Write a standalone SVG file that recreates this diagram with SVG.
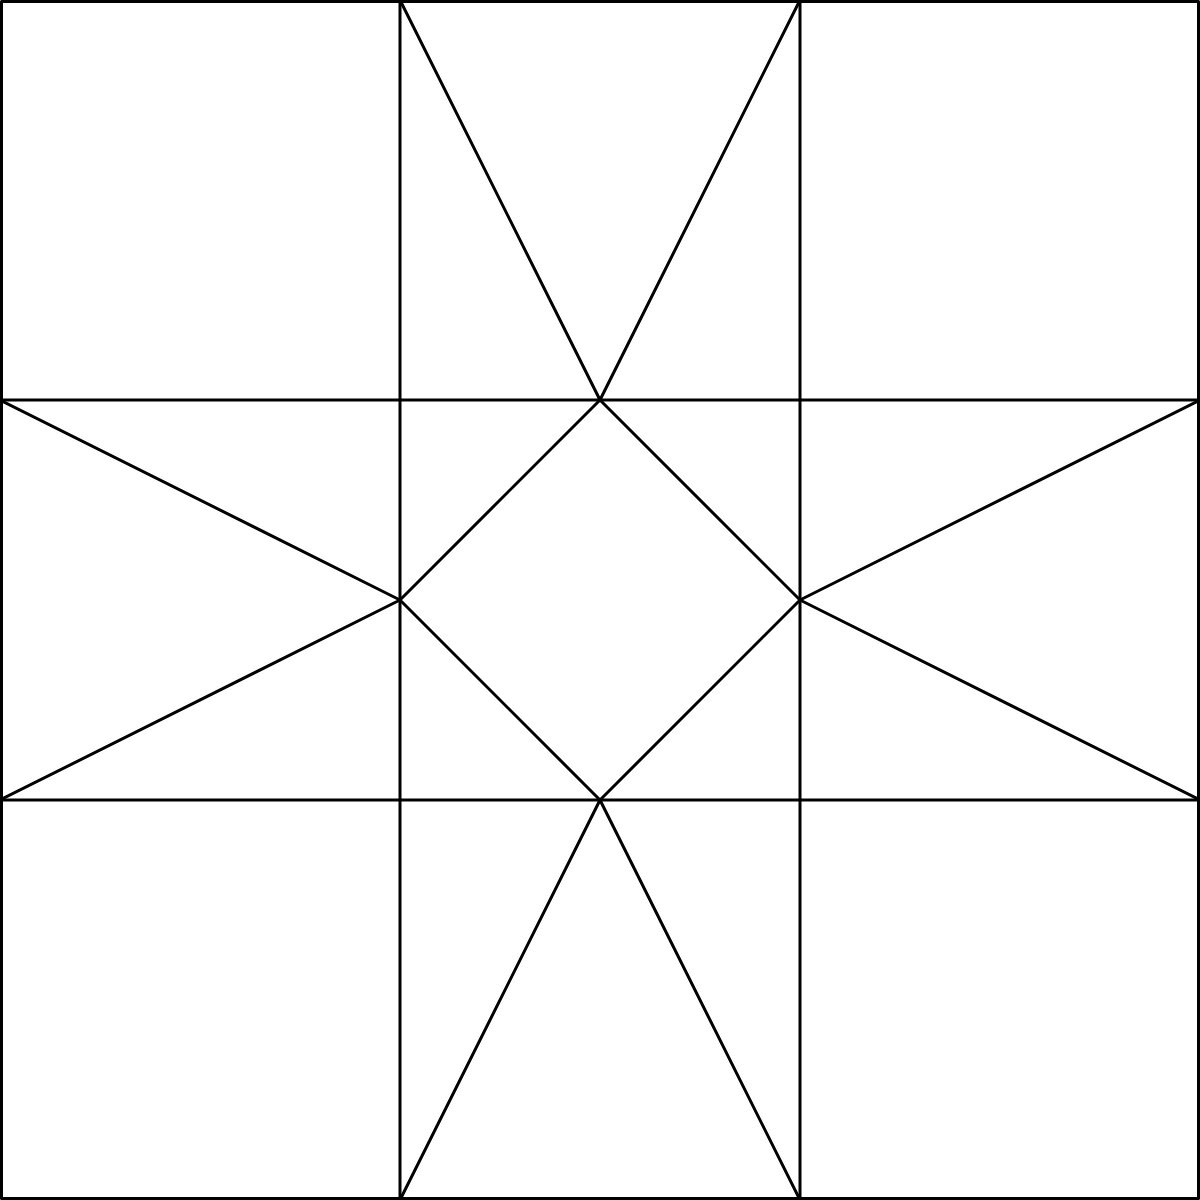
<svg xmlns="http://www.w3.org/2000/svg" width="1200" height="1200" viewBox="0 0 1200 1200">
<style>.l{stroke:#000;stroke-width:3;fill:none;stroke-linecap:round;stroke-linejoin:round}</style>
<rect width="1200" height="1200" fill="#fff"/>
<g id="grid" class="l">
<rect x="1.5" y="1.5" width="1197" height="1197"/>
<line x1="400" y1="0" x2="400" y2="1200"/>
<line x1="800" y1="0" x2="800" y2="1200"/>
<line x1="0" y1="400" x2="1200" y2="400"/>
<line x1="0" y1="800" x2="1200" y2="800"/>
</g>
<g id="star" class="l">
<polyline points="400,0 600,400 800,0"/>
<polyline points="0,400 400,600 0,800"/>
<polyline points="1200,400 800,600 1200,800"/>
<polyline points="400,1200 600,800 800,1200"/>
<polygon points="600,400 800,600 600,800 400,600"/>
</g>
</svg>
